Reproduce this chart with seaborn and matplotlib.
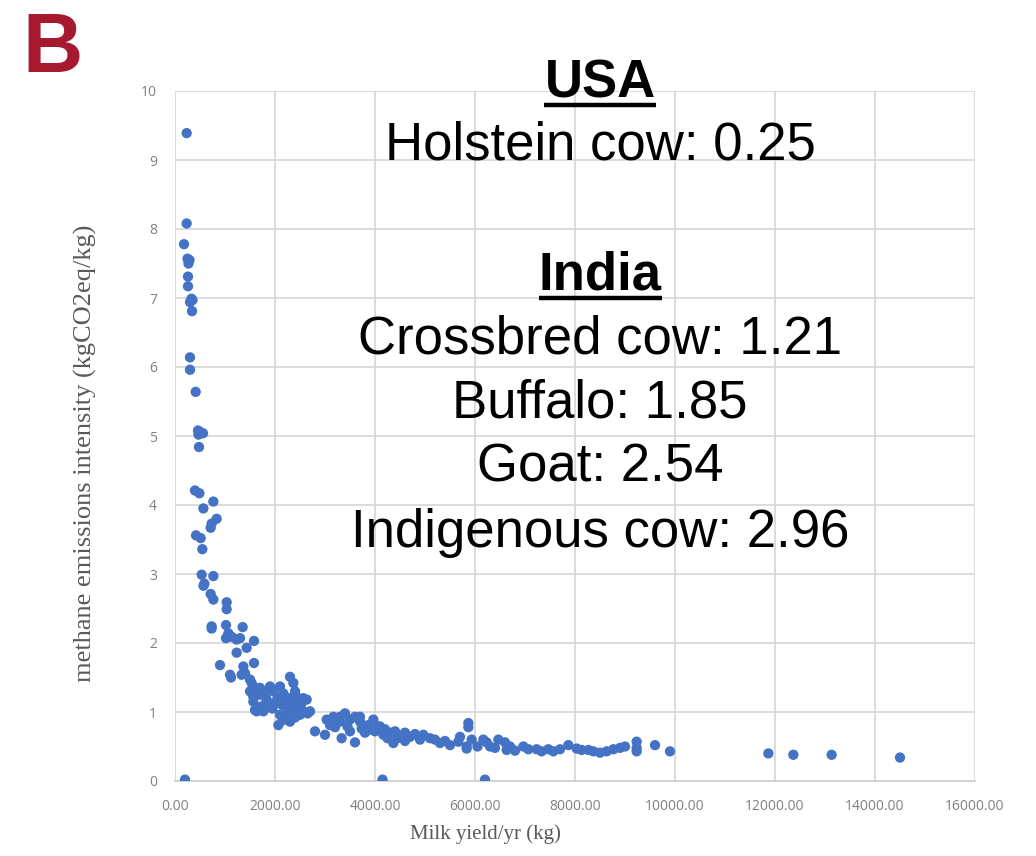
import matplotlib
matplotlib.use("Agg")
import matplotlib.pyplot as plt
from matplotlib.lines import Line2D
import seaborn as sns
import pandas as pd

# milk yield (kg/yr) and methane emissions intensity (kgCO2eq/kg)
milk_yield = [
    233, 233, 180, 250, 290, 270, 260, 260, 330, 300, 350, 340, 300, 300, 413,
    460, 500, 560, 470, 480, 400, 487, 767, 567, 833, 733, 713, 420, 513, 547,
    533, 767, 587, 570, 713, 767, 1033, 1033, 733, 733, 1020, 1067, 1020, 1133,
    1353, 1300, 1233, 1580, 1433, 1233, 900, 1100, 1120, 1367, 1580, 1333, 1400,
    1500, 1533, 1567, 1500, 1600, 1567, 1567, 1600, 1733,
    1900, 1967, 2100, 2300, 2367, 2167, 1833, 2000, 2233, 2433, 2533, 2633,
    2700, 2500, 2433, 2267, 2100, 2067, 2200, 2350, 1767, 1633, 2567, 2400, 2250,
    1700, 1800, 1950, 2050, 2150, 2300, 2350, 2450, 2550, 2650, 2150, 2300, 2400,
    1700, 1850,
    2800, 3000, 3033, 3167, 3400, 3300, 3500, 3600, 3700, 3733, 3867, 3967, 4100,
    4167, 3333, 3600, 3100, 3450, 3300, 3700, 3867, 4067,
    3200, 3500, 3800, 4000, 4250, 4450, 4600,
    4200, 4300, 4400, 4500, 4600, 4700, 4800, 4367, 4900,
    4967, 5100, 5300, 5500, 5667, 5700, 5867, 5867, 5833, 5833, 5933, 5200, 5400,
    6167, 6233, 6467, 6600, 6633, 6700, 6050, 6300, 6400, 6800,
    6967, 7067, 7233, 7333, 7467, 7567, 7700, 7867, 8033, 8133, 8267, 8367, 8500,
    8633, 8767, 8900, 9000, 9233, 9233, 9233, 9600, 9900,
    11867, 12367, 13133, 14500,
    200, 4150, 6200,
]
emission_intensity = [
    9.39, 8.08, 7.78, 7.57, 7.55, 7.50, 7.31, 7.17, 6.99, 6.94, 6.97, 6.81, 6.14, 5.96, 5.64,
    5.08, 5.06, 5.04, 5.02, 4.84, 4.21, 4.17, 4.05, 3.95, 3.80, 3.73, 3.67, 3.56, 3.52, 3.36,
    2.99, 2.97, 2.86, 2.83, 2.71, 2.63, 2.59, 2.49, 2.24, 2.21, 2.26, 2.14, 2.07, 2.09,
    2.23, 2.07, 2.05, 2.03, 1.93, 1.86, 1.68, 1.54, 1.50, 1.66, 1.71, 1.54, 1.56,
    1.47, 1.42, 1.37, 1.30, 1.27, 1.22, 1.15, 1.03, 1.08,
    1.37, 1.30, 1.37, 1.51, 1.42, 1.27, 1.18, 1.13, 1.18, 1.22, 1.13, 1.18,
    1.01, 0.96, 0.96, 1.01, 0.96, 0.81, 0.91, 1.05, 1.01, 1.01, 1.20, 1.30, 1.08,
    1.25, 1.10, 1.05, 1.20, 1.10, 1.20, 1.12, 1.05, 1.02, 0.98, 0.88, 0.86, 0.92,
    1.35, 1.30,
    0.72, 0.67, 0.89, 0.93, 0.98, 0.86, 0.89, 0.93, 0.86, 0.76, 0.81, 0.89, 0.79,
    0.67, 0.62, 0.56, 0.81, 0.79, 0.93, 0.93, 0.74, 0.79,
    0.78, 0.72, 0.70, 0.72, 0.62, 0.62, 0.58,
    0.75, 0.70, 0.72, 0.66, 0.70, 0.64, 0.68, 0.55, 0.60,
    0.67, 0.62, 0.55, 0.52, 0.57, 0.64, 0.84, 0.78, 0.50, 0.47, 0.60, 0.60, 0.58,
    0.60, 0.56, 0.60, 0.56, 0.45, 0.50, 0.50, 0.50, 0.48, 0.44,
    0.50, 0.46, 0.46, 0.43, 0.46, 0.43, 0.46, 0.52, 0.47, 0.45, 0.45, 0.43, 0.41,
    0.43, 0.46, 0.48, 0.50, 0.57, 0.48, 0.43, 0.52, 0.43,
    0.40, 0.38, 0.38, 0.34,
    0.02, 0.02, 0.02,
]

x_ticks = [0, 2000, 4000, 6000, 8000, 10000, 12000, 14000, 16000]
y_ticks = list(range(0, 11))

header_usa = "USA"
lines_usa = ["Holstein cow: 0.25"]
header_india = "India"
lines_india = ["Crossbred cow: 1.21", "Buffalo: 1.85", "Goat: 2.54", "Indigenous cow: 2.96"]

df = pd.DataFrame({"milk": milk_yield, "ch4": emission_intensity})

sns.set_theme(style="whitegrid")
plt.rcParams["font.family"] = ["Liberation Sans", "DejaVu Sans"]

fig = plt.figure(figsize=(10.36, 8.56), dpi=100)
ax = fig.add_axes([175 / 1036, 75 / 856, 800 / 1036, 690 / 856])

sns.scatterplot(data=df, x="milk", y="ch4", ax=ax, color="#4472C4",
                s=55, edgecolor="none", linewidth=0, zorder=3)

ax.set_xlim(0, 16000)
ax.set_ylim(0, 10)
ax.set_xticks(x_ticks)
ax.set_yticks(y_ticks)
ax.set_xticklabels([f"{v:.2f}" for v in x_ticks])
ax.set_yticklabels([str(v) for v in y_ticks])
ax.grid(True, color="#d9d9d9", linewidth=1.3)
ax.set_axisbelow(True)
for side in ["top", "right", "left"]:
    ax.spines[side].set_visible(False)
ax.spines["bottom"].set_color("#d0d0d0")
ax.spines["bottom"].set_linewidth(1.3)
ax.tick_params(axis="both", length=0, labelsize=10, labelcolor="#808080")
ax.tick_params(axis="x", pad=13)
ax.tick_params(axis="y", pad=13)
for lab in ax.get_xticklabels() + ax.get_yticklabels():
    lab.set_family(["Open Sans", "DejaVu Sans"])

ax.set_xlabel("Milk yield/yr (kg)", family="Liberation Serif", fontsize=15, color="#595959")
ax.set_ylabel("methane emissions intensity (kgCO2eq/kg)", family="Liberation Serif",
              fontsize=19, color="#595959")
ax.xaxis.set_label_coords(0.3875, -0.063)
ax.yaxis.set_label_coords(-0.0975, 0.475)

# panel letter
fig.text(22 / 1036, 1 - 72 / 856, "B", fontsize=60, fontweight="bold",
         color="#A6192E", ha="left", va="baseline")

# annotation block
cx = 600 / 1036
fs = 38
t_usa = fig.text(cx, 1 - 97 / 856, header_usa, fontsize=fs, fontweight="bold",
                 ha="center", va="baseline", color="black")
fig.text(cx, 1 - 159 / 856, lines_usa[0], fontsize=fs, ha="center", va="baseline",
         color="black")
t_india = fig.text(cx, 1 - 290 / 856, header_india, fontsize=fs, fontweight="bold",
                   ha="center", va="baseline", color="black")
for i, line in enumerate(lines_india):
    fig.text(cx, 1 - (353 + 64.5 * i) / 856, line, fontsize=fs, ha="center",
             va="baseline", color="black")

# underline the headers
fig.canvas.draw()
renderer = fig.canvas.get_renderer()
for t, gap in [(t_usa, 8), (t_india, 8)]:
    bb = t.get_window_extent(renderer)
    x0, x1 = bb.x0 / 1036, bb.x1 / 1036
    ybase = t.get_position()[1] - gap / 856
    fig.add_artist(Line2D([x0, x1], [ybase, ybase], transform=fig.transFigure,
                          color="black", linewidth=3.2, solid_capstyle="butt"))

fig.savefig("out.png", dpi=100)
